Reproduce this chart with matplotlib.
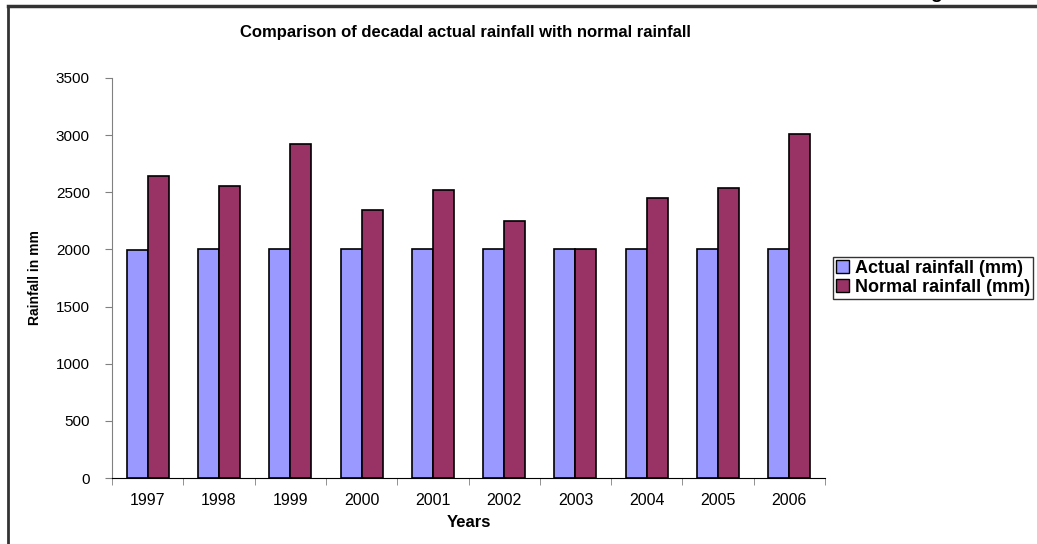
import numpy as np
import matplotlib.pyplot as plt
from matplotlib.lines import Line2D
from matplotlib.patches import Patch

plt.rcParams['font.family'] = ['Liberation Sans', 'DejaVu Sans']

# Data
years = ['1997', '1998', '1999', '2000', '2001', '2002', '2003', '2004', '2005', '2006']
actual = [1995, 2000, 2000, 2000, 2003, 2002, 2002, 2002, 2002, 2006]
normal = [2640, 2555, 2922, 2348, 2517, 2248, 2002, 2447, 2537, 3010]

fig = plt.figure(figsize=(10.37, 5.44), dpi=100)
ax = fig.add_axes([112 / 1037, 1 - 478 / 544, 713 / 1037, 400 / 544])

x = np.arange(len(years))
w = 0.295
ax.bar(x - w / 2, actual, w, color='#9999FF', edgecolor='black', linewidth=1.2, label='Actual rainfall (mm)')
ax.bar(x + w / 2, normal, w, color='#993366', edgecolor='black', linewidth=1.2, label='Normal rainfall (mm)')

ax.set_xlim(-0.5, len(years) - 0.5)
ax.set_ylim(0, 3500)
ax.set_yticks(np.arange(0, 3501, 500))
ax.set_xticks(x)
ax.set_xticklabels(years)
ax.set_xticks(np.arange(-0.5, len(years), 1), minor=True)
ax.tick_params(axis='x', which='major', length=0, pad=11, labelsize=11.5)
ax.tick_params(axis='x', which='minor', length=5, color='#808080', direction='out')
ax.tick_params(axis='y', length=5, color='#808080', labelsize=11, pad=11)

for s in ['top', 'right']:
    ax.spines[s].set_visible(False)
ax.spines['left'].set_color('#808080')
ax.spines['bottom'].set_color('black')

ax.set_xlabel('Years', fontsize=12, fontweight='bold')
ax.xaxis.set_label_coords(0.5, -(515 - 478) / 400)
ax.set_ylabel('Rainfall in mm', fontsize=10, fontweight='bold')
ax.yaxis.set_label_coords(-(112 - 42) / 713, 0.5)
fig.text(465 / 1037, 1 - 32 / 544, 'Comparison of decadal actual rainfall with normal rainfall',
         ha='center', va='center', fontsize=12, fontweight='bold')

handles = [Patch(facecolor='#9999FF', edgecolor='black', linewidth=1),
           Patch(facecolor='#993366', edgecolor='black', linewidth=1)]
leg = fig.legend(handles, ['Actual rainfall (mm)', 'Normal rainfall (mm)'],
                 loc='center left', bbox_to_anchor=(833 / 1037, 1 - 278 / 544),
                 prop={'weight': 'bold', 'size': 13}, frameon=True, fancybox=False,
                 handlelength=0.75, handleheight=0.75, handletextpad=0.3,
                 borderpad=0.15, labelspacing=0.1, borderaxespad=0)
leg.get_frame().set_edgecolor('black')
leg.get_frame().set_linewidth(1)

# outer chart frame (only left and top edges visible in the crop)
fig.add_artist(Line2D([8 / 1037, 8 / 1037], [0, 1 - 6 / 544], color='#333333', lw=2, transform=fig.transFigure))
fig.add_artist(Line2D([8 / 1037, 1], [1 - 6 / 544, 1 - 6 / 544], color='#333333', lw=2.5, transform=fig.transFigure))
fig.text(936 / 1037, 1 + 7 / 544, 'g', ha='center', va='center', fontsize=14, fontweight='bold')

fig.savefig('out.png', dpi=100)
